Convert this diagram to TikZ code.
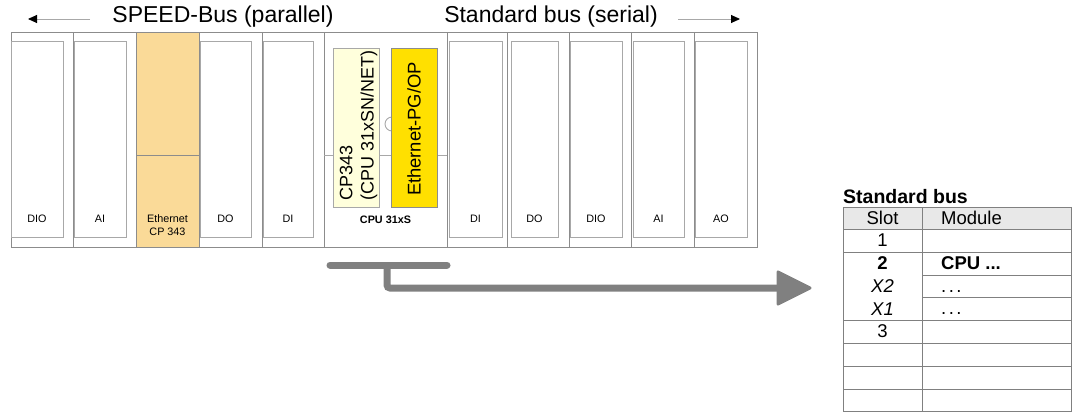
\documentclass[tikz,border=0pt]{standalone}
\usepackage{fontspec}
\setmainfont{Liberation Sans}
\usetikzlibrary{arrows.meta}
\definecolor{outerc}{HTML}{8C8C8C}
\definecolor{innerc}{HTML}{A8A8A8}
\definecolor{ethfill}{HTML}{FADA98}
\definecolor{cpfill}{HTML}{FFFFDC}
\definecolor{pgfill}{HTML}{FFE000}
\definecolor{hdrfill}{HTML}{E8E8E8}
\definecolor{arrc}{HTML}{808080}
\tikzset{
  outerbox/.style={draw=outerc, line width=0.9pt},
  innerbox/.style={draw=innerc, line width=0.9pt},
  modlabel/.style={font=\fontsize{10.8}{12.5}\selectfont, inner sep=0pt, align=center},
  bustitle/.style={font=\fontsize{23}{26}\selectfont, inner sep=0pt},
  tabtext/.style={font=\fontsize{18.5}{21}\selectfont, inner sep=0pt},
  tabline/.style={draw=arrc, line width=0.8pt},
  busarrow/.style={draw=innerc, line width=0.9pt, -{Triangle[length=9pt,width=8pt,black]}},
  flowline/.style={draw=arrc, line width=7pt},
}
\begin{document}
\begin{tikzpicture}[x=1pt,y=-1pt]
\useasboundingbox (0,0) rectangle (1078,412);
% header
\node[bustitle] (speed) at (223,17) {SPEED-Bus (parallel)};
\node[bustitle] (std) at (551,17) {Standard bus (serial)};
\coordinate (la1) at (90,19); \coordinate (la2) at (28,19);
\coordinate (ra1) at (678,19); \coordinate (ra2) at (740,19);
\draw[busarrow] (la1) -- (la2);
\draw[busarrow] (ra1) -- (ra2);
% modules
\foreach \xol/\xor/\xil/\xir/\lab/\nm in {11/73/11/63/DIO/m1, 73/136/74/126/AI/m2, 199/262/200/251/DO/m4, 262/324/263/313/DI/m5, 447/507/449/502/DI/m7, 507/569/511/558/DO/m8, 569/631/570/622/DIO/m9, 631/694/633/684/AI/m10, 694/757/695/747/AO/m11}{
  \draw[outerbox] (\xol,32) rectangle (\xor,247);
  \draw[innerbox] (\xil,41) rectangle (\xir,237);
  \node[modlabel] (\nm) at ({(\xil+\xir)/2},218.5) {\lab};
}
% Ethernet CP 343
\draw[outerbox, fill=ethfill] (136,32) rectangle (199,247);
\draw[outerbox] (136,155) -- (199,155);
\node[modlabel] (m3) at (167.5,225) {Ethernet\\CP 343};
% CPU
\draw[outerbox] (324,32) rectangle (447,247);
\draw[innerbox] (324,155) -- (447,155);
\draw[innerbox] (392,124) circle (7);
\draw[draw=innerc, fill=cpfill, line width=0.8pt] (333,48) rectangle (379,207);
\draw[draw=outerc, fill=pgfill, line width=0.8pt] (391,48) rectangle (437,207);
\node[font=\fontsize{18}{21.3}\selectfont, rotate=90, anchor=west, align=left, inner sep=0pt] (cp) at (358.5,200.5) {CP343\\(CPU 31xSN/NET)};
\node[font=\fontsize{18.4}{21}\selectfont, rotate=90, inner sep=0pt] (pg) at (414,129) {Ethernet-PG/OP};
\node[modlabel, font=\bfseries\fontsize{10.8}{12.5}\selectfont] (cpu) at (385.5,219.5) {CPU 31xS};
% connector
\coordinate (b1) at (330,265); \coordinate (b2) at (447,265);
\coordinate (j1) at (387,265); \coordinate (j2) at (387,288);
\coordinate (e1) at (779,288);
\draw[flowline, line cap=round] (b1) -- (b2);
\draw[flowline, rounded corners=3pt] (j1) -- (j2) -- (e1);
\fill[arrc, draw=arrc, line width=3pt, line join=round] (778,272) -- (810,288) -- (778,304) -- cycle;
% table
\node[font=\bfseries\fontsize{19.5}{22}\selectfont, inner sep=0pt, anchor=base west] (ttl) at (843,203) {Standard bus};
\fill[hdrfill] (843,207) rectangle (1071,229.5);
\draw[tabline] (843,207) rectangle (1071,411);
\draw[tabline] (922,207) -- (922,411);
\foreach \yy in {229.5,252,320,343.3,366.3,389.3}{
  \draw[tabline] (843,\yy) -- (1071,\yy);
}
\foreach \yy in {275,297.7}{
  \draw[tabline] (922,\yy) -- (1071,\yy);
}
\node[tabtext] (hs) at (882.5,218) {Slot};
\node[tabtext, anchor=west] (hm) at (941,218) {Module};
\node[tabtext] (s1) at (882.5,240.5) {1};
\node[tabtext, font=\bfseries\fontsize{18.5}{21}\selectfont] (s2) at (882.5,263.5) {2};
\node[tabtext, font=\bfseries\fontsize{18.5}{21}\selectfont, anchor=west] (c2) at (941,263.5) {CPU ...};
\node[tabtext, font=\itshape\fontsize{18.5}{21}\selectfont] (sx2) at (882.5,286) {X2};
\node[tabtext, anchor=base west] (cx2) at (941,292) {.\hspace{2.5pt}.\hspace{2.5pt}.};
\node[tabtext, font=\itshape\fontsize{18.5}{21}\selectfont] (sx1) at (882.5,309) {X1};
\node[tabtext, anchor=base west] (cx1) at (941,314.5) {.\hspace{2.5pt}.\hspace{2.5pt}.};
\node[tabtext] (s3) at (882.5,331.5) {3};
\end{tikzpicture}
\end{document}
